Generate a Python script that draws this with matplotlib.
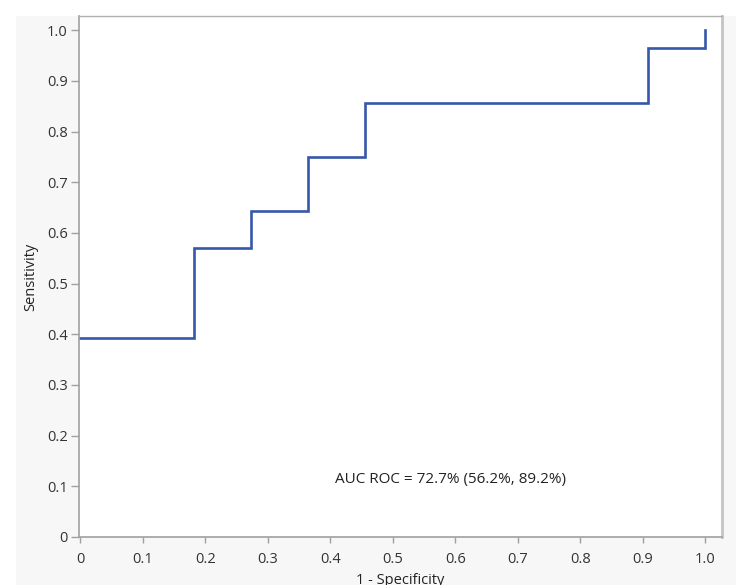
import matplotlib
matplotlib.use("Agg")
import matplotlib.pyplot as plt
from matplotlib.patches import Rectangle
import numpy as np

plt.rcParams['font.family'] = ['Open Sans', 'DejaVu Sans']

# ROC curve step points (1 - specificity, sensitivity)
fpr = [0.0, 0.182, 0.182, 0.273, 0.273, 0.364, 0.364, 0.455, 0.455, 0.909, 0.909, 1.0, 1.0]
tpr = [0.393, 0.393, 0.571, 0.571, 0.643, 0.643, 0.750, 0.750, 0.857, 0.857, 0.964, 0.964, 1.0]
auc_label = "AUC ROC = 72.7% (56.2%, 89.2%)"
ticks = [0, 0.1, 0.2, 0.3, 0.4, 0.5, 0.6, 0.7, 0.8, 0.9, 1.0]
tick_labels = ["0", "0.1", "0.2", "0.3", "0.4", "0.5", "0.6", "0.7", "0.8", "0.9", "1.0"]

W, H = 749, 585
fig = plt.figure(figsize=(W / 100, H / 100), dpi=100)
fig.patch.set_facecolor("white")

# light gray panel behind the plot
panel = Rectangle((16 / W, 0), (736 - 16) / W, (H - 16) / H,
                  transform=fig.transFigure, facecolor="#f7f7f7",
                  edgecolor="none", zorder=-10)
fig.add_artist(panel)

ax = fig.add_axes([79 / W, (H - 537) / H, (722 - 79) / W, (537 - 16) / H])
ax.set_zorder(1)
ax.set_facecolor("white")

ax.plot(fpr, tpr, color="#3658a8", lw=1.9, solid_joinstyle="miter")

ax.set_xlim(-0.002, 1.027)
ax.set_ylim(0, 1.028)
ax.set_xticks(ticks)
ax.set_xticklabels(tick_labels)
ax.set_yticks(ticks)
ax.set_yticklabels(tick_labels)
ax.tick_params(labelsize=10.5, colors="#a0a0a0", labelcolor="#333333", width=1)
ax.tick_params(axis="x", length=4.5, pad=6)
ax.tick_params(axis="y", length=5.5, pad=2.5)

for side in ["left", "bottom"]:
    ax.spines[side].set_color("#a0a0a0")
    ax.spines[side].set_linewidth(1.2)
ax.spines["top"].set_color("#b0b0b0")
ax.spines["top"].set_linewidth(1.0)
ax.spines["right"].set_color("#c4c4c4")
ax.spines["right"].set_linewidth(2.0)

ax.text(0.592, 0.114, auc_label, ha="center", va="center", fontsize=11, color="#222222")

ax.set_xlabel("1 - Specificity", fontsize=10.5, color="#222222", va="center")
ax.set_ylabel("Sensitivity", fontsize=10.5, color="#222222", va="center")
ax.xaxis.set_label_coords(0.5, -0.084)
ax.yaxis.set_label_coords(-0.075, 0.5)

fig.savefig("out.png", dpi=100)
